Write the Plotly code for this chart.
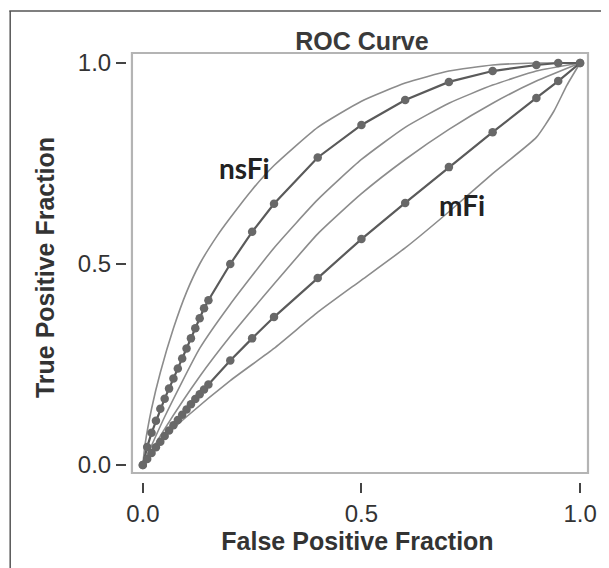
import plotly.graph_objects as go

# ---- data ----
ns_fpf = [0, 0.01, 0.02, 0.03, 0.04, 0.05, 0.06, 0.07, 0.08, 0.09, 0.10, 0.11, 0.12, 0.13, 0.14, 0.15,
          0.2, 0.25, 0.3, 0.4, 0.5, 0.6, 0.7, 0.8, 0.9, 0.95, 1.0]
ns_tpf = [0, 0.045, 0.08, 0.11, 0.14, 0.165, 0.19, 0.215, 0.24, 0.265, 0.29, 0.315, 0.34, 0.365, 0.39, 0.41,
          0.5, 0.58, 0.65, 0.765, 0.846, 0.908, 0.953, 0.98, 0.995, 1.0, 1.0]

mf_fpf = [0, 0.01, 0.02, 0.03, 0.04, 0.05, 0.06, 0.07, 0.08, 0.09, 0.10, 0.11, 0.12, 0.13, 0.14, 0.15,
          0.2, 0.25, 0.3, 0.4, 0.5, 0.6, 0.7, 0.8, 0.9, 0.95, 1.0]
mf_tpf = [0, 0.015, 0.03, 0.044, 0.058, 0.072, 0.086, 0.099, 0.112, 0.125, 0.138, 0.151, 0.164, 0.176, 0.188, 0.2,
          0.26, 0.315, 0.368, 0.465, 0.562, 0.652, 0.741, 0.828, 0.913, 0.955, 1.0]

ns_up_fpf = [0, 0.005, 0.02, 0.04, 0.07, 0.1, 0.13, 0.17, 0.2, 0.25, 0.3, 0.4, 0.5, 0.6, 0.7, 0.8, 0.9, 1.0]
ns_up_tpf = [0, 0.05, 0.14, 0.23, 0.34, 0.43, 0.5, 0.57, 0.615, 0.685, 0.745, 0.84, 0.905, 0.95, 0.98, 0.995, 1.0, 1.0]

ns_lo_fpf = [0, 0.05, 0.13, 0.2, 0.3, 0.4, 0.5, 0.6, 0.7, 0.8, 0.9, 1.0]
ns_lo_tpf = [0, 0.12, 0.29, 0.40, 0.54, 0.66, 0.76, 0.84, 0.9, 0.945, 0.98, 1.0]

mf_up_fpf = [0, 0.05, 0.13, 0.2, 0.3, 0.4, 0.5, 0.6, 0.7, 0.8, 0.9, 1.0]
mf_up_tpf = [0, 0.09, 0.22, 0.32, 0.45, 0.575, 0.675, 0.76, 0.835, 0.9, 0.955, 1.0]

mf_lo_fpf = [0, 0.05, 0.1, 0.2, 0.3, 0.4, 0.5, 0.6, 0.7, 0.8, 0.9, 0.94, 0.97, 1.0]
mf_lo_tpf = [0, 0.07, 0.12, 0.21, 0.29, 0.38, 0.46, 0.54, 0.63, 0.725, 0.815, 0.88, 0.945, 1.0]

tick_vals = [0.0, 0.5, 1.0]
tick_text = ["0.0", "0.5", "1.0"]

BAND = "#8c8c8c"
MAIN = "#5a5a5a"
MARK = "#686868"

fig = go.Figure()
for xs, ys in [(ns_up_fpf, ns_up_tpf), (ns_lo_fpf, ns_lo_tpf),
               (mf_up_fpf, mf_up_tpf), (mf_lo_fpf, mf_lo_tpf)]:
    fig.add_trace(go.Scatter(x=xs, y=ys, mode="lines",
                             line=dict(color=BAND, width=1.6, shape="spline", smoothing=0.5),
                             hoverinfo="skip", showlegend=False))
for xs, ys in [(ns_fpf, ns_tpf), (mf_fpf, mf_tpf)]:
    fig.add_trace(go.Scatter(x=xs, y=ys, mode="lines+markers",
                             line=dict(color=MAIN, width=2.2),
                             marker=dict(color=MARK, size=8.5),
                             showlegend=False))

fig.add_annotation(x=0.232, y=0.739, text="<b>nsFi</b>", showarrow=False,
                   font=dict(family="Lato", size=28, color="#222222"))
fig.add_annotation(x=0.731, y=0.647, text="<b>mFi</b>", showarrow=False,
                   font=dict(family="Lato", size=28, color="#222222"))

# plot frame (inner box) and outer panel border
fig.add_shape(type="rect", xref="paper", yref="paper",
              x0=5/466, x1=1, y0=9/429, y1=1,
              line=dict(color="#b4b4b4", width=2.2), layer="above")
fig.add_shape(type="line", xref="paper", yref="paper",
              x0=-119/466 + 0.002, x1=-119/466 + 0.002, y0=1.098, y1=-0.25,
              line=dict(color="#555555", width=1.5))
fig.add_shape(type="line", xref="paper", yref="paper",
              x0=-119/466, x1=1.1, y0=1.098, y1=1.098,
              line=dict(color="#555555", width=1.5))

# page body has an 8px margin, so the figure is 8px smaller and shifted
fig.update_layout(
    width=601, height=560,
    margin=dict(l=119, r=16, t=45, b=86),
    plot_bgcolor="white", paper_bgcolor="white",
    title=dict(text="<b>ROC Curve</b>", x=354/601, xanchor="center", y=1-33/560, yanchor="middle",
               font=dict(family="Liberation Sans", size=25, color="#3a3a3a")),
    xaxis=dict(range=[-0.0362, 1.0181], tickvals=tick_vals, ticktext=tick_text,
               ticks="outside", ticklen=10, tickwidth=2, tickcolor="#444444",
               showgrid=False, zeroline=False, showline=False,
               tickfont=dict(family="Liberation Sans", size=24, color="#333333"),
               title=dict(text="<b>False Positive Fraction</b>", standoff=6,
                          font=dict(family="Liberation Sans", size=25, color="#333333"))),
    yaxis=dict(range=[-0.0423, 1.0249], tickvals=tick_vals, ticktext=tick_text,
               ticks="outside", ticklen=10, tickwidth=2, tickcolor="#444444",
               showgrid=False, zeroline=False, showline=False,
               tickfont=dict(family="Liberation Sans", size=24, color="#333333"),
               title=dict(text="<b>True Positive Fraction</b>", standoff=16,
                          font=dict(family="Liberation Sans", size=25, color="#333333"))),
)

fig.write_html("out.html")
